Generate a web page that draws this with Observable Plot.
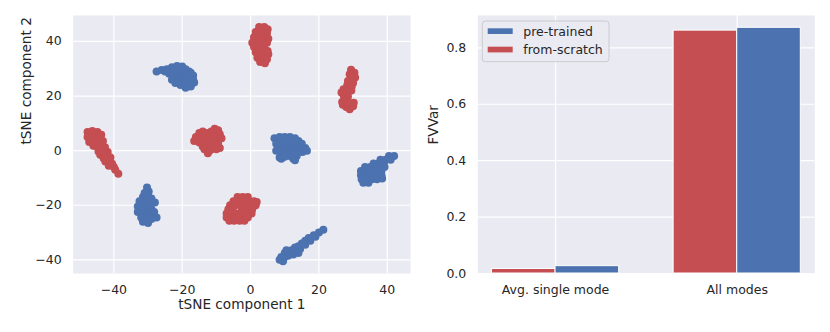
<!DOCTYPE html>
<html>
<head>
<meta charset="utf-8">
<script src="https://cdn.jsdelivr.net/npm/d3@7"></script>
<script src="https://cdn.jsdelivr.net/npm/@observablehq/plot@0.6"></script>
<style>
  body { margin: 0; background: #fff; }
  #wrap { display: flex; width: 830px; height: 332px; }
  svg { display: block; }
</style>
</head>
<body>
<div id="wrap"></div>
<script>
// ---- Data ----
const seriesNames = ["pre-trained", "from-scratch"];
const seriesColors = ["#4C72B0", "#C44E52"];

// tSNE embedding points, pre-trained (blue)
const pretrainedTSNE = [
  // cluster near (-20, 27)
  [-27.5,29.0],[-26,29.5],[-24.5,29.8],[-23,30.5],[-21.5,31],[-20,30.8],[-19,29.8],[-22.5,28.8],[-21,28.5],[-19.5,27.8],
  [-18,27.5],[-16.8,27.5],[-16.8,26],[-18.5,25.8],[-20,25.5],[-21.5,26],[-22.5,27],[-23.8,28.2],[-20.5,24],[-19,23],
  [-17.5,23.5],[-16.5,25],[-22,24.8],[-25,29],[-18,29],[-23,26],[-20.5,27],[-19,26.5],[-21.5,29.8],[-17.5,28.5],
  // cluster near (-30, -20)
  [-30.3,-13.5],[-29.8,-15],[-31,-15.5],[-30,-16.5],[-31.5,-17],[-29,-17.5],[-28,-19],[-29.5,-19],[-31,-19],[-32.5,-18.5],
  [-33,-20.5],[-31.5,-21],[-30,-21],[-29,-21.5],[-33,-22.5],[-31.5,-23],[-30,-23],[-28.5,-23.5],[-27.5,-24.5],[-29,-25],
  [-30.5,-25],[-31.5,-26],[-30,-26.5],[-32,-24.5],[-30.2,-18],[-28.2,-22.5],
  // cluster near (11, 1)
  [7,4.5],[8.5,5],[10,5],[11.5,5],[13,4.5],[14,3.5],[15,2.5],[16,1],[16.5,0],[15,0.5],[13.5,1.5],[12,2.5],[10.5,3],[9,3],
  [7.5,2.5],[8,1],[9.5,1],[11,1],[12.5,0],[14,-0.5],[13.5,-2],[12.5,-3],[13,-3.5],[9,-1],[8.5,-2.5],[9,-3],[10.5,-1],
  [11.5,-2],[7.5,0],[12,-1.2],[10,-2.2],[15.2,-0.5],[11,4],[13.2,3],
  // cluster near (37, -7)
  [40.5,-2],[42,-2],[38,-3.3],[39.5,-3.3],[41,-3.3],[36,-4.7],[37.5,-4.7],[39,-4.7],
  [33.5,-6],[35,-6],[36.5,-6],[38,-6],[39.2,-6],
  [32.3,-7.5],[33.8,-7.5],[35.3,-7.5],[36.8,-7.5],[38.3,-7.5],
  [32.3,-9],[33.8,-9],[35.3,-9],[36.8,-9],[38.3,-9],
  [32.5,-10.5],[34,-10.5],[35.5,-10.5],[37,-10.5],[38.5,-10.2],
  [33,-11.8],[34.5,-11.8],
  // cluster near (14, -36)
  [21.3,-29],[20,-30],[18.5,-31],[17,-32],[16,-33],[15,-34],[14,-35],[13,-35.5],[12,-36.5],[11,-37],[10,-37.5],[9,-39],
  [8.5,-40],[9.5,-40.5],[10,-39],[11,-38.5],[12.5,-38],[14,-37.5],[14.5,-36],[16,-34.5],[17.5,-33],[10.5,-36.5],[19,-31.5],
  [13,-37]
];

// tSNE embedding points, from-scratch (red)
const fromScratchTSNE = [
  // cluster near (3, 38)
  [2.5,45.3],[4,45.3],[5,44.5],[1.5,43.5],[3,43.5],[4.8,43],[1,41.5],[2.5,41.5],[4,41.5],[5.2,41],[0.5,39.5],[2,39.5],
  [3.5,39.5],[4.8,39.5],[1,38],[2.5,37.5],[4,37.5],[5,36.5],[1.5,36],[3,35.5],[5.2,35.3],[2,34],[3.5,34],[4.8,33.5],
  [2.8,32.5],[4.2,32],
  // cluster near (29, 23)
  [29.4,29.6],[30.4,28.5],[29,28],[30.6,26.8],[29.5,26.3],[28.5,25.5],[30,24.8],[28.3,24],[29.6,23.5],[27.2,22.5],
  [26.6,21.3],[28.2,21.8],[29.5,22],[27.3,20],[28.5,19.8],[27.8,18.5],[27,16.8],[28,16],[29,15.2],[30,16.3],[30.2,17.5],
  [28.8,17.5],[26.8,17.8],
  // cluster near (-44, 2)
  [-47.7,6.8],[-46.3,7.2],[-44.8,6.8],[-43.7,5.8],[-47.7,5],[-46.2,5],[-44.8,4.6],[-47.2,3.2],[-45.8,3],[-44.3,2.8],
  [-43.2,3.5],[-45,1.5],[-43.8,1],[-42.6,1.2],[-43.2,-0.5],[-41.8,-0.5],[-42.2,-2],[-41,-2.5],[-41.5,-4],[-40.5,-4.8],
  [-40,-6],[-39.6,-7],[-38.7,-8.5],[-46,1.8],[-44.5,-0.3],[-44,-1.5],[-43,-2.8],[-42.5,-4],[-41.5,-5.5],
  // cluster near (-12, 4)
  [-16.5,3.5],[-16,5],[-15,6.5],[-14,7],[-13,6.5],[-11.5,7],[-10.5,8],[-9.5,7.5],[-9,6],[-8.5,4.5],[-10,4],[-11.5,4.5],
  [-13,4.5],[-14.5,4.5],[-15,3],[-13.5,2.5],[-12,2],[-10.5,2],[-9,1],[-10,0.5],[-11.5,0.5],[-12.5,-1],[-12,0],[-14,1.5],
  [-11,5.5],[-12.5,3.5],[-9.5,2.8],[-13.5,0.5],
  // cluster near (-2, -22)
  [-3.8,-17],[-2.3,-17],[-0.8,-17],
  [-5,-18.5],[-3.5,-18.5],[-2,-18.5],[-0.5,-18.5],[1,-18.5],[1.8,-18.8],
  [-6,-20],[-4.5,-20],[-3,-20],[-1.5,-20],[0,-20],[1.5,-20],
  [-6.5,-21.5],[-5.3,-21.5],[-2.5,-21.5],[-1,-21.5],[0.5,-21.5],
  [-7,-23],[-5.5,-23],[-4,-23],[-2.5,-23],[-1,-23],[0.3,-23],
  [-7,-24.5],[-5.5,-24.5],[-4,-24.5],[-2.5,-24.5],[-0.8,-24.5],
  [-6.2,-25.7],[-4.8,-25.7],[-3.2,-25.7],[-1.8,-25.7]
];

const tsneTicks = [-40, -20, 0, 20, 40];
const tsneXLabel = "tSNE component 1";
const tsneYLabel = "tSNE component 2";

// Bar chart: FVVar
const barCategories = ["Avg. single mode", "All modes"];
const fvvarFromScratch = [0.016, 0.861];
const fvvarPretrained = [0.026, 0.871];
const fvvarTicks = [0, 0.2, 0.4, 0.6, 0.8];
const fvvarLabel = "FVVar";

// ---- Styles ----
const BG = "#EAEAF2";
const TXT = "#262626";
const FONT = "DejaVu Sans";
const fmtNum = d => (d < 0 ? "\u2212" + Math.abs(d) : String(d));

// ---- Left: tSNE scatter ----
const tsneData = [
  ...pretrainedTSNE.map(([x, y]) => ({x, y, s: seriesNames[0]})),
  ...fromScratchTSNE.map(([x, y]) => ({x, y, s: seriesNames[1]}))
];

const left = Plot.plot({
  width: 415, height: 332,
  marginLeft: 72.7, marginRight: 5, marginTop: 15, marginBottom: 59,
  style: {fontFamily: FONT, fontSize: "12.5px", color: TXT, background: "white", overflow: "visible"},
  x: {domain: [-51.9, 46.8]},
  y: {domain: [-45.0, 49.5]},
  color: {domain: seriesNames, range: seriesColors},
  marks: [
    Plot.frame({fill: BG, stroke: null}),
    Plot.gridX(tsneTicks, {stroke: "white", strokeOpacity: 1, strokeWidth: 1.2}),
    Plot.gridY(tsneTicks, {stroke: "white", strokeOpacity: 1, strokeWidth: 1.2}),
    Plot.axisX(tsneTicks, {tickSize: 0, tickPadding: 12, tickFormat: fmtNum, label: null, fontSize: 12.5}),
    Plot.axisY(tsneTicks, {tickSize: 0, tickPadding: 11.5, tickFormat: fmtNum, label: null, fontSize: 12.5}),
    Plot.dot(tsneData, {x: "x", y: "y", fill: "s", r: 4, stroke: null}),
    Plot.text([tsneXLabel], {text: d => d, frameAnchor: "bottom", dy: 35.3, fontSize: 13.65, fill: TXT}),
    Plot.text([tsneYLabel], {text: d => d, frameAnchor: "left", dx: -47, rotate: -90, fontSize: 13.65, fill: TXT})
  ]
});

// ---- Right: FVVar bars ----
const barWidth = 0.35;
const barData = [];
barCategories.forEach((c, i) => {
  barData.push({i, x1: i - barWidth, x2: i, v: fvvarFromScratch[i], s: seriesNames[1]});
  barData.push({i, x1: i, x2: i + barWidth, v: fvvarPretrained[i], s: seriesNames[0]});
});

const right = Plot.plot({
  width: 415, height: 332,
  marginLeft: 62.3, marginRight: 15.7, marginTop: 15, marginBottom: 59,
  style: {fontFamily: FONT, fontSize: "12.5px", color: TXT, background: "white", overflow: "visible"},
  x: {domain: [-0.428, 1.427]},
  y: {domain: [0, 0.9146]},
  color: {domain: seriesNames, range: seriesColors},
  marks: [
    Plot.frame({fill: BG, stroke: null}),
    Plot.gridX([0, 1], {stroke: "white", strokeOpacity: 1, strokeWidth: 1.2}),
    Plot.gridY(fvvarTicks, {stroke: "white", strokeOpacity: 1, strokeWidth: 1.2}),
    Plot.axisX([0, 1], {tickSize: 0, tickPadding: 12, tickFormat: i => barCategories[i], label: null, fontSize: 12.5}),
    Plot.axisY(fvvarTicks, {tickSize: 0, tickPadding: 11.5, tickFormat: d => d.toFixed(1), label: null, fontSize: 12.5}),
    Plot.rectY(barData, {x1: "x1", x2: "x2", y: "v", fill: "s", stroke: "white", strokeWidth: 1}),
    Plot.text([fvvarLabel], {text: d => d, frameAnchor: "left", dx: -43.8, rotate: -90, fontSize: 13.65, fill: TXT})
  ]
});

// legend drawn inside the right panel
(function addLegend(svg) {
  const g = d3.select(svg).append("g")
    .attr("font-family", FONT).attr("font-size", 12.5).attr("text-anchor", "start");
  g.append("rect").attr("x", 67.3).attr("y", 21).attr("width", 126.7).attr("height", 40.7)
    .attr("rx", 3).attr("fill", BG).attr("fill-opacity", 0.9).attr("stroke", "#cccccc").attr("stroke-width", 1);
  const rows = [
    {name: seriesNames[0], color: seriesColors[0], py: 28.3, by: 35.7},
    {name: seriesNames[1], color: seriesColors[1], py: 46.7, by: 54}
  ];
  rows.forEach(r => {
    g.append("rect").attr("x", 72.7).attr("y", r.py).attr("width", 25).attr("height", 5.7)
      .attr("fill", r.color);
    g.append("text").attr("x", 108.3).attr("y", r.by).attr("fill", TXT).attr("text-anchor", "start").text(r.name);
  });
})(right);

const wrap = document.getElementById("wrap");
wrap.appendChild(left);
wrap.appendChild(right);
</script>
</body>
</html>
